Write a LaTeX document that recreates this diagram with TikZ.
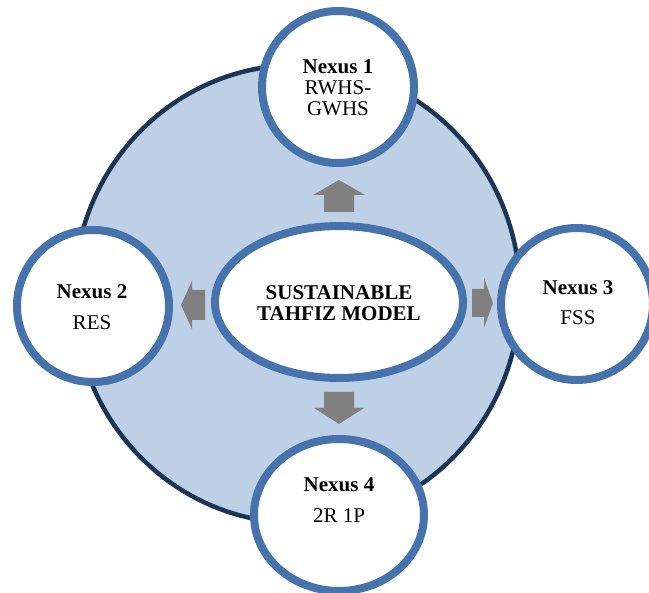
\documentclass[tikz,border=0pt]{standalone}
\usepackage{fontspec}
\setmainfont{Liberation Serif}
\usetikzlibrary{shapes.geometric}
\definecolor{ringblue}{HTML}{4673AB}
\definecolor{bigfill}{HTML}{BED0E6}
\definecolor{bigline}{HTML}{1C3554}
\definecolor{arrowgray}{HTML}{808080}
\tikzset{
  bigshape/.style={ellipse, draw=bigline, fill=bigfill, line width=4.5pt, inner sep=0pt},
  nexusshape/.style={ellipse, draw=ringblue, fill=white, line width=8pt, inner sep=0pt},
  lbl/.style={font=\fontsize{21}{21}\selectfont, align=center, inner sep=0pt},
  blockarrow/.style={fill=arrowgray}
}
\begin{document}
\begin{tikzpicture}[x=1pt,y=-1pt]
\useasboundingbox (0,0) rectangle (649,593);
\node[bigshape, minimum width=446pt, minimum height=458pt] (big) at (297,294) {};
% block arrows
\fill[blockarrow] (324,212) -- (324,195) -- (313,195) -- (339,180) -- (365,195) -- (354,195) -- (354,212) -- cycle;
\fill[blockarrow] (324,392) -- (354,392) -- (354,408) -- (364,408) -- (339,424) -- (314,408) -- (324,408) -- cycle;
\fill[blockarrow] (205,290) -- (192,290) -- (192,281) -- (181,305) -- (192,329) -- (192,320) -- (205,320) -- cycle;
\fill[blockarrow] (472,289) -- (484,289) -- (484,278) -- (493,303) -- (484,328) -- (484,317) -- (472,317) -- cycle;
% center
\node[nexusshape, minimum width=248pt, minimum height=152pt] (core) at (339,302) {};
\node[lbl] (coret) at (339,303) {\textbf{SUSTAINABLE}\\\textbf{TAHFIZ MODEL}};
% nexus nodes
\node[nexusshape, minimum width=152pt, minimum height=152pt] (n1) at (338,87) {};
\node[lbl] (n1t) at (338,88) {\textbf{Nexus 1}\\RWHS-\\GWHS};
\node[nexusshape, minimum width=152pt, minimum height=152pt] (n2) at (93,306) {};
\node[lbl] (n2t) at (92,307) {\textbf{Nexus 2}\\[10pt]RES};
\node[nexusshape, minimum width=152pt, minimum height=152pt] (n3) at (577,304) {};
\node[lbl] (n3t) at (578,303) {\textbf{Nexus 3}\\[9pt]FSS};
\node[nexusshape, minimum width=170pt, minimum height=152pt] (n4) at (339,515) {};
\node[lbl] (n4t) at (339,500) {\textbf{Nexus 4}\\[10pt]2R 1P};
\end{tikzpicture}
\end{document}
